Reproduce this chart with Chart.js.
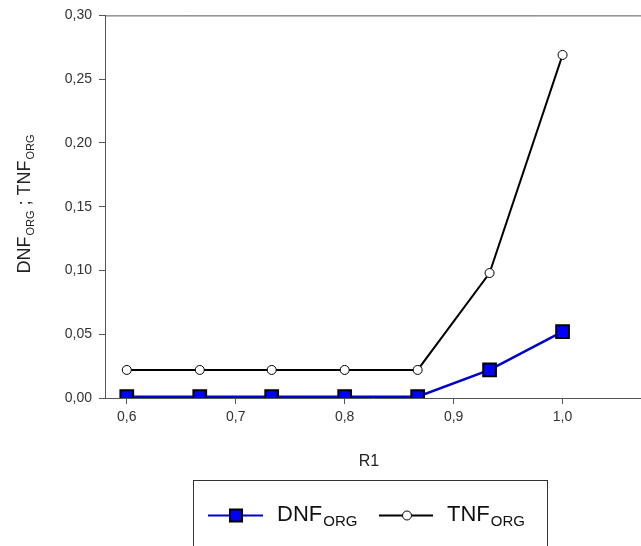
<!DOCTYPE html>
<html>
<head>
<meta charset="utf-8">
<script src="https://cdn.jsdelivr.net/npm/chart.js@4.4.1/dist/chart.umd.min.js"></script>
<style>
  html, body { margin: 0; padding: 0; background: #fff; }
  #wrap { width: 641px; height: 546px; position: relative; }
</style>
</head>
<body>
<div id="wrap"><canvas id="chart" width="641" height="546"></canvas></div>
<script>
// Data

const r1Values = [0.6, 0.667, 0.733, 0.8, 0.867, 0.933, 1.0];
const dnfValues = [0.001, 0.001, 0.001, 0.001, 0.001, 0.022, 0.052];
const tnfValues = [0.022, 0.022, 0.022, 0.022, 0.022, 0.098, 0.269];
const xTicks = [0.6, 0.7, 0.8, 0.9, 1.0];
const yTicks = [0, 0.05, 0.10, 0.15, 0.20, 0.25, 0.30];

const xMin = 0.58;
const xMax = 1.072;
const fontFamily = '"Liberation Sans", Arial, sans-serif';

function toPoints(values) {
    return r1Values.map((x, i) => ({ x: x, y: values[i] }));
}

function commaLabel(value, digits) {
    return value.toFixed(digits).replace('.', ',');
}

// draws "MAIN" followed by subscript "SUB", returns end x
function drawSubText(ctx, x, y, main, sub, mainSize, subSize, subDrop) {
    ctx.font = mainSize + 'px ' + fontFamily;
    ctx.fillText(main, x, y);
    let w = ctx.measureText(main).width;
    ctx.font = subSize + 'px ' + fontFamily;
    ctx.fillText(sub, x + w + 1, y + subDrop);
    return x + w + 1 + ctx.measureText(sub).width;
}

// Frame line on top, axis titles and legend box

const extrasPlugin = {
    id: 'extras',
    afterDraw(chart) {
        const ctx = chart.ctx;
        const area = chart.chartArea;
        ctx.save();

        ctx.strokeStyle = '#555';
        ctx.lineWidth = 1;
        ctx.beginPath();
        ctx.moveTo(area.left, area.top + 0.5);
        ctx.lineTo(area.right, area.top + 0.5);
        ctx.stroke();

        ctx.fillStyle = '#222';
        ctx.textBaseline = 'alphabetic';

        // x title
        ctx.font = '16px ' + fontFamily;
        ctx.textAlign = 'center';
        ctx.fillText('R1', 369, 466);

        // y title (rotated)
        ctx.save();
        ctx.translate(30, 203);
        ctx.rotate(-Math.PI / 2);
        ctx.textAlign = 'left';
        ctx.font = '18px ' + fontFamily;
        let totalW = ctx.measureText('DNF').width * 2 + ctx.measureText(' ; ').width;
        ctx.font = '11px ' + fontFamily;
        totalW += 2 * ctx.measureText('ORG').width + 2;
        let x = -totalW / 2;
        x = drawSubText(ctx, x, 0, 'DNF', 'ORG', 18, 11, 4);
        ctx.font = '18px ' + fontFamily;
        ctx.fillText(' ; ', x, 0);
        x += ctx.measureText(' ; ').width;
        drawSubText(ctx, x, 0, 'TNF', 'ORG', 18, 11, 4);
        ctx.restore();

        // legend box
        ctx.strokeStyle = '#333';
        ctx.lineWidth = 1;
        ctx.strokeRect(193.5, 480.5, 354, 80);

        ctx.lineWidth = 2;
        ctx.strokeStyle = '#0000cc';
        ctx.beginPath();
        ctx.moveTo(208, 515.5);
        ctx.lineTo(263, 515.5);
        ctx.stroke();
        ctx.fillStyle = '#0000ff';
        ctx.strokeStyle = '#000';
        ctx.lineWidth = 2;
        ctx.fillRect(230, 509.5, 12, 12);
        ctx.strokeRect(230, 509.5, 12, 12);

        ctx.strokeStyle = '#000';
        ctx.lineWidth = 2;
        ctx.beginPath();
        ctx.moveTo(379, 515.5);
        ctx.lineTo(433, 515.5);
        ctx.stroke();
        ctx.fillStyle = '#fff';
        ctx.lineWidth = 1;
        ctx.beginPath();
        ctx.arc(407, 515.5, 4.5, 0, Math.PI * 2);
        ctx.fill();
        ctx.stroke();

        ctx.fillStyle = '#111';
        ctx.textAlign = 'left';
        drawSubText(ctx, 277, 521, 'DNF', 'ORG', 22, 15, 5);
        drawSubText(ctx, 447, 521, 'TNF', 'ORG', 22, 15, 5);

        ctx.restore();
    }
};

const chartCanvas = document.getElementById('chart');

let chartData = {
    datasets: [{
        label: 'TNF',
        data: toPoints(tnfValues),
        showLine: true,
        borderColor: '#000',
        borderWidth: 2,
        pointStyle: 'circle',
        pointRadius: 4.5,
        pointBackgroundColor: '#fff',
        pointBorderColor: '#000',
        pointBorderWidth: 1
    }, {
        label: 'DNF',
        data: toPoints(dnfValues),
        showLine: true,
        borderColor: '#0000cc',
        borderWidth: 2.5,
        pointStyle: 'rect',
        pointRadius: 9,
        pointBackgroundColor: '#0000ff',
        pointBorderColor: '#000',
        pointBorderWidth: 2
    }]
};

let chartOptions = {
    responsive: false,
    animation: { duration: 0 },
    layout: {
        autoPadding: false,
        padding: { left: 0, right: 0, top: 15, bottom: 0 }
    },
    scales: {
        x: {
            type: 'linear',
            min: xMin,
            max: xMax,
            afterFit: scale => {
                scale.height = 148;
                scale.paddingRight = 0;
            },
            afterBuildTicks: scale => { scale.ticks = xTicks.map(v => ({ value: v })); },
            grid: {
                drawOnChartArea: false,
                color: '#555',
                tickLength: 6
            },
            border: { color: '#555', width: 1 },
            ticks: {
                color: '#333',
                padding: 5,
                maxRotation: 0,
                autoSkip: false,
                font: { family: fontFamily, size: 14 },
                callback: v => commaLabel(v, 1)
            }
        },
        y: {
            type: 'linear',
            min: 0,
            max: 0.30,
            afterFit: scale => { scale.width = 105; },
            afterBuildTicks: scale => { scale.ticks = yTicks.map(v => ({ value: v })); },
            grid: {
                drawOnChartArea: false,
                color: '#555',
                tickLength: 6
            },
            border: { color: '#555', width: 1 },
            ticks: {
                color: '#333',
                padding: 7,
                font: { family: fontFamily, size: 14 },
                callback: v => commaLabel(v, 2)
            }
        }
    },
    plugins: {
        legend: { display: false },
        tooltip: { enabled: false }
    }
};

let mainChart = new Chart(chartCanvas, {
    type: 'scatter',
    data: chartData,
    options: chartOptions,
    plugins: [extrasPlugin]
});
</script>
</body>
</html>
